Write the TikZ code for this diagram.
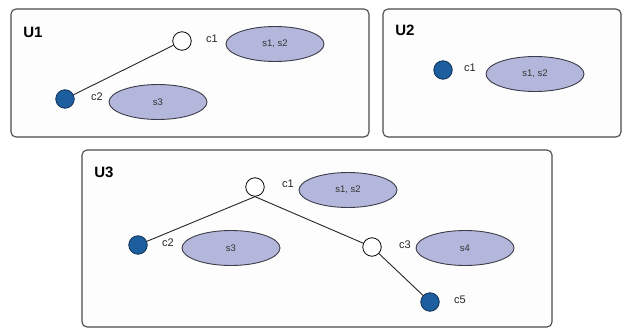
\documentclass[tikz,border=0pt]{standalone}
\usepackage{fontspec}
\setmainfont{Liberation Sans}
\definecolor{boxline}{HTML}{4A4A4A}
\definecolor{boxfill}{HTML}{FDFDFD}
\definecolor{ellfill}{HTML}{B3B7DB}
\definecolor{ellline}{HTML}{3C3C4A}
\definecolor{nodeblue}{HTML}{1C5E9E}
\definecolor{nodeblueline}{HTML}{0F2F55}
\tikzset{
  panel/.style={draw=boxline, fill=boxfill, line width=1.1pt, rounded corners=5pt},
  title/.style={font=\fontsize{15}{15}\selectfont\bfseries, text=black},
  open/.style={circle, draw=black, fill=white, line width=0.8pt, minimum size=18.5pt, inner sep=0pt},
  full/.style={circle, draw=nodeblueline, fill=nodeblue, line width=0.8pt, minimum size=18.5pt, inner sep=0pt},
  clab/.style={font=\fontsize{11}{11}\selectfont, text=black!85, inner sep=0pt},
  set/.style={ellipse, draw=ellline, fill=ellfill, line width=0.9pt, minimum width=98pt, minimum height=35pt, inner sep=0pt, font=\fontsize{9.5}{9.5}\selectfont, text=black!80},
  edge/.style={draw=black!85, line width=0.9pt}
}
\usetikzlibrary{shapes.geometric}
\begin{document}
\begin{tikzpicture}[x=1pt,y=-1pt]
\useasboundingbox (0,0) rectangle (623,329);
% panels
\draw[panel] (11,9) rectangle (369,137);
\draw[panel] (383,9) rectangle (621,137);
\draw[panel] (82,150) rectangle (552,327);
% U1
\node[title] (u1) at (33,32) {U1};
\node[open] (a1) at (182,41) {};
\node[clab] (a1l) at (212,39) {c1};
\node[set] (a1s) at (275,44) {s1, s2};
\node[full] (a2) at (65,99) {};
\node[clab] (a2l) at (97,97) {c2};
\node[set] (a2s) at (158,102) {s3};
\draw[edge] (a1) -- (a2);
% U2
\node[title] (u2) at (405,30) {U2};
\node[full] (b1) at (443,70) {};
\node[clab] (b1l) at (470,68) {c1};
\node[set] (b1s) at (535,74) {s1, s2};
% U3
\node[title] (u3) at (104,172) {U3};
\node[open] (d1) at (255,187) {};
\node[clab] (d1l) at (288,184) {c1};
\node[set] (d1s) at (348,190) {s1, s2};
\node[full] (d2) at (138,245) {};
\node[clab] (d2l) at (168,243) {c2};
\node[set] (d2s) at (231,248) {s3};
\node[open] (d3) at (372,247) {};
\node[clab] (d3l) at (405,245) {c3};
\node[set] (d3s) at (465,248) {s4};
\node[full] (d5) at (430,302) {};
\node[clab] (d5l) at (460,300) {c5};
\draw[edge] (d1.south) -- (d2);
\draw[edge] (d1.south) -- (d3);
\draw[edge] (d3) -- (d5);
\end{tikzpicture}
\end{document}
